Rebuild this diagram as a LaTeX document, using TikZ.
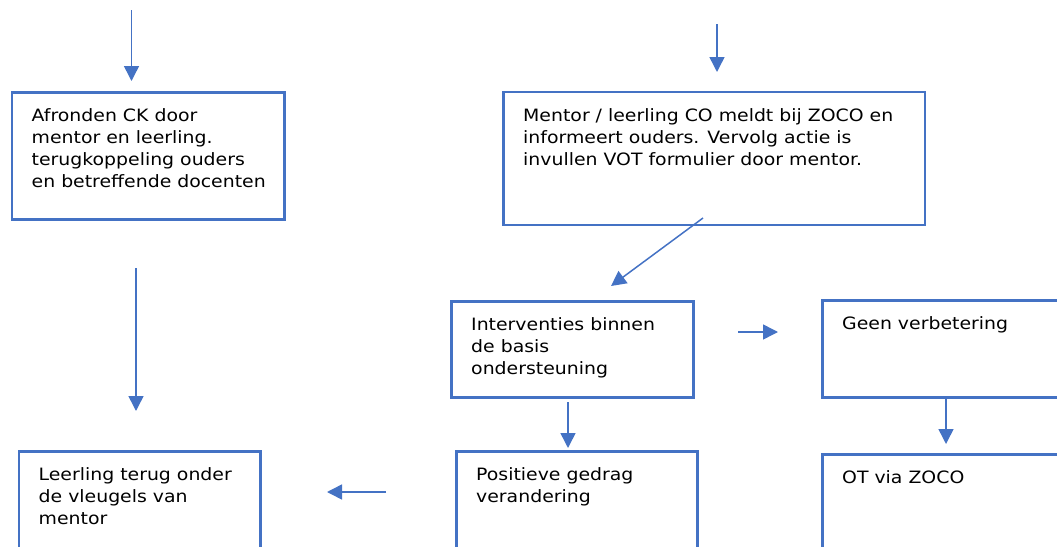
\documentclass[tikz,border=0pt]{standalone}
\usepackage{fontspec}
\setmainfont{DejaVu Sans}[FakeStretch=1.11]
\usetikzlibrary{arrows.meta}
\definecolor{flowblue}{HTML}{4472C4}

\begin{document}
\begin{tikzpicture}
            [x=1pt, y=-1pt, >={Triangle[length=15pt,width=15pt]},
             every node/.style={font=\fontsize{17}{22}\selectfont},
             box/.style={shape=rectangle, draw=flowblue, line width=2.5pt, anchor=north west, inner sep=0pt},
             boxtext/.style={anchor=north west, align=left, inner sep=0pt, xshift=21pt, yshift=-17.5pt},
             arr/.style={->, color=flowblue, line width=1.5pt}]
            \useasboundingbox (0, 0) rectangle (1057, 546);
            \clip (0, 0) rectangle (1057, 546);

            % boxes
            \node[box, minimum width=272.5pt, minimum height=127pt,
                  label={[boxtext]north west:{Afronden CK door\\mentor en leerling.\\terugkoppeling ouders\\en betreffende docenten}}] (ck) at (10.5, 91) {};
            \node[box, minimum width=421.5pt, minimum height=133pt,
                  label={[boxtext]north west:{Mentor / leerling CO meldt bij ZOCO en\\informeert ouders. Vervolg actie is\\invullen VOT formulier door mentor.}}] (zoco) at (502, 90.5) {};
            \node[box, minimum width=242pt, minimum height=96pt,
                  label={[boxtext]north west:{Interventies binnen\\de basis\\ondersteuning}}] (interv) at (450, 300) {};
            \node[box, minimum width=260pt, minimum height=97pt,
                  label={[boxtext]north west:{Geen verbetering}}] (geen) at (821, 299) {};
            \node[box, minimum width=241pt, minimum height=120pt,
                  label={[boxtext]north west:{Positieve gedrag\\verandering}}] (positief) at (455, 450) {};
            \node[box, minimum width=260pt, minimum height=120pt,
                  label={[boxtext]north west:{OT via ZOCO}}] (ot) at (821, 453) {};
            \node[box, minimum width=241.5pt, minimum height=120pt,
                  label={[boxtext]north west:{Leerling terug onder\\de vleugels van\\mentor}}] (terug) at (17.5, 450) {};

            % free arrow ends
            \coordinate (ckin) at (131.5, 10);
            \coordinate (ckin tip) at (131.5, 81);
            \coordinate (zocoin) at (717, 24);
            \coordinate (zocoin tip) at (717, 72);
            \coordinate (zocoout) at (703, 218);
            \coordinate (zocoout tip) at (611, 286);
            \coordinate (ckout) at (136, 268);
            \coordinate (ckout tip) at (136, 411);
            \coordinate (intervout) at (738, 332);
            \coordinate (intervout tip) at (778, 332);
            \coordinate (intervdown) at (568, 402);
            \coordinate (intervdown tip) at (568, 448);
            \coordinate (geendown) at (946, 397);
            \coordinate (geendown tip) at (946, 444);
            \coordinate (positiefout) at (386, 492);
            \coordinate (positiefout tip) at (327, 492);

            \draw [arr] (ckin) -- (ckin tip);
            \draw [arr] (zocoin) -- (zocoin tip);
            \draw [arr] (zocoout) -- (zocoout tip);
            \draw [arr] (ckout) -- (ckout tip);
            \draw [arr] (intervout) -- (intervout tip);
            \draw [arr] (intervdown) -- (intervdown tip);
            \draw [arr] (geendown) -- (geendown tip);
            \draw [arr] (positiefout) -- (positiefout tip);
        \end{tikzpicture}
\end{document}
